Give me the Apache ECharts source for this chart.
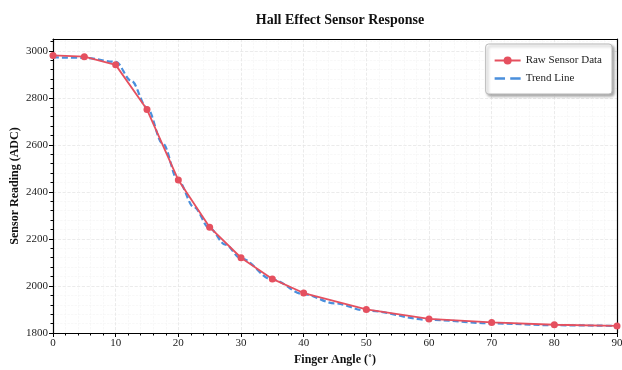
<!DOCTYPE html>
<html><head><meta charset="utf-8">
<script src="https://cdn.jsdelivr.net/npm/echarts@6/dist/echarts.min.js"></script>
<style>html,body{margin:0;padding:0;background:#fff}#c{width:622px;height:370px}</style>
</head><body><div id="c"></div>
<script>
const angles = [0, 5, 10, 15, 20, 25, 30, 35, 40, 50, 60, 70, 80, 90];
const rawValues = [2980, 2975, 2940, 2750, 2450, 2250, 2120, 2030, 1970, 1900, 1860, 1845, 1835, 1830];
const trendAngles = [0, 5, 10, 12.5, 15, 17.5, 20, 22.5, 25, 27.5, 30, 35, 40, 45, 50, 60, 70, 80, 90];
const trendValues = [2972, 2970, 2953, 2872, 2758, 2606, 2446, 2335, 2245, 2176, 2117, 2027, 1965, 1926, 1895, 1856, 1841, 1833, 1830];
const yTicks = [1800, 2000, 2200, 2400, 2600, 2800, 3000];

const serif = '"Liberation Serif", "Times New Roman", serif';
const chart = echarts.init(document.getElementById('c'), null, {renderer: 'canvas'});
const frameAxis = {
  axisLine: {show: true, onZero: false, lineStyle: {color: '#000', width: 1.2}},
  axisTick: {show: false}, axisLabel: {show: false}, splitLine: {show: false}
};
chart.setOption({
  animation: false,
  backgroundColor: '#fff',
  title: {
    text: 'Hall Effect Sensor Response', left: 335, top: 8, textAlign: 'center',
    textStyle: {fontFamily: serif, fontWeight: 'bold', fontSize: 14, color: '#111'}
  },
  legend: {
    right: 10, top: 44, orient: 'vertical', itemWidth: 26, itemHeight: 10, itemGap: 7,
    padding: [11, 10, 10, 8],
    backgroundColor: '#fff', borderColor: '#bbb', borderWidth: 1, borderRadius: 3,
    shadowColor: 'rgba(0,0,0,0.35)', shadowBlur: 3, shadowOffsetX: 2, shadowOffsetY: 2,
    textStyle: {fontFamily: serif, fontSize: 11, color: '#222'},
    data: ['Raw Sensor Data', {name: 'Trend Line', icon: 'path://M0,0H4V1H0Z M6,0H10V1H6Z'}]
  },
  grid: {left: 53, right: 5, top: 39, bottom: 37, show: false, containLabel: false, outerBoundsMode: 'none'},
  xAxis: [{
    type: 'value', min: 0, max: 90, interval: 10,
    name: 'Finger Angle (˚)', nameLocation: 'middle', nameGap: 21, nameMoveOverlap: false,
    nameTextStyle: {fontFamily: serif, fontWeight: 'bold', fontSize: 12, color: '#111'},
    axisLine: {lineStyle: {color: '#000', width: 1.2}},
    axisTick: {show: true, length: 4, lineStyle: {color: '#000'}},
    minorTick: {show: true, splitNumber: 5, length: 2.5, lineStyle: {color: '#000'}},
    axisLabel: {fontFamily: serif, fontSize: 11, color: '#222', margin: 5},
    splitLine: {show: true, lineStyle: {color: '#e6e6e6', type: 'dashed', width: 0.8}},
    minorSplitLine: {show: true, lineStyle: {color: '#f4f4f4', type: 'dashed', width: 0.6}}
  }, Object.assign({type: 'value', min: 0, max: 90, position: 'top'}, frameAxis)],
  yAxis: [{
    type: 'value', min: 1800, max: 3050, interval: 200,
    name: 'Sensor Reading (ADC)', nameLocation: 'middle', nameGap: 32, nameMoveOverlap: false,
    nameTextStyle: {fontFamily: serif, fontWeight: 'bold', fontSize: 12, color: '#111'},
    axisLine: {show: true, lineStyle: {color: '#000', width: 1.2}},
    axisTick: {show: true, length: 4, lineStyle: {color: '#000'}, customValues: yTicks},
    minorTick: {show: true, splitNumber: 5, length: 2.5, lineStyle: {color: '#000'}},
    axisLabel: {fontFamily: serif, fontSize: 11, color: '#222', margin: 5, showMaxLabel: false,
      formatter: v => yTicks.includes(v) ? String(v) : ''},
    splitLine: {show: true, lineStyle: {color: '#e6e6e6', type: 'dashed', width: 0.8}},
    minorSplitLine: {show: true, lineStyle: {color: '#f4f4f4', type: 'dashed', width: 0.6}}
  }, Object.assign({type: 'value', min: 1800, max: 3050, position: 'right'}, frameAxis)],
  series: [
    {
      name: 'Trend Line', type: 'line', smooth: 0.35, smoothMonotone: 'x', symbol: 'none', z: 2,
      data: trendAngles.map((a, i) => [a, trendValues[i]]),
      lineStyle: {color: '#4a8fdc', width: 2.2, type: [6, 3]},
      itemStyle: {color: '#4a8fdc'}
    },
    {
      name: 'Raw Sensor Data', type: 'line', symbol: 'circle', symbolSize: 7, z: 3,
      data: angles.map((a, i) => [a, rawValues[i]]),
      lineStyle: {color: '#e5505f', width: 1.8},
      itemStyle: {color: '#e5505f'}
    }
  ]
});
</script></body></html>
